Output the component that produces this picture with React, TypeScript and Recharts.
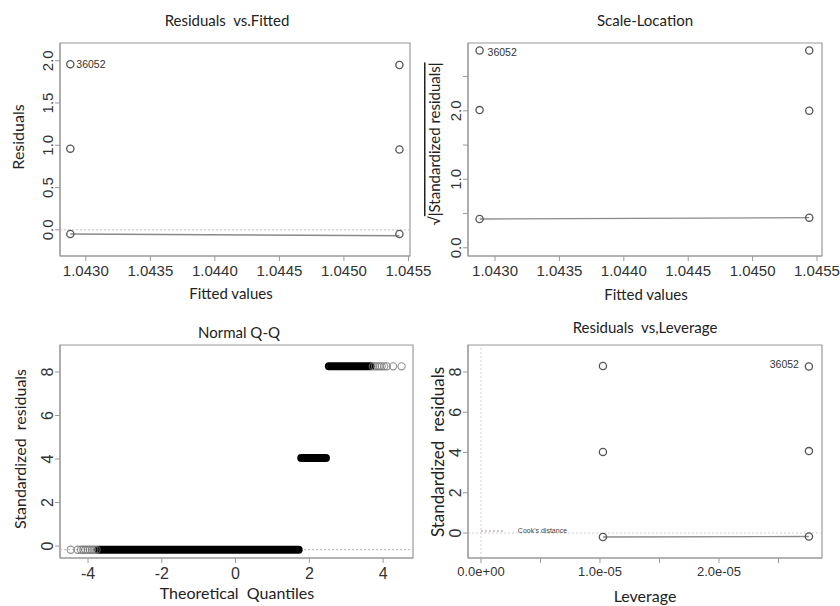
import React from "react";
import {
  ScatterChart,
  Scatter,
  XAxis,
  YAxis,
  ReferenceArea,
  ReferenceLine,
  ReferenceDot,
} from "recharts";

// ---------- data ----------
const FIT_TICKS = [1.043, 1.0435, 1.044, 1.0445, 1.045, 1.0455];
const FIT_TICK_LABELS = ["1.0430", "1.0435", "1.0440", "1.0445", "1.0450", "1.0455"];

// Residuals vs Fitted
const RF_X = [1.04288, 1.04288, 1.04288, 1.04543, 1.04543, 1.04543];
const RF_Y = [1.96, 0.96, -0.05, 1.95, 0.95, -0.05];
const RF_SMOOTH_X = [1.04288, 1.04543];
const RF_SMOOTH_Y = [-0.05, -0.07];
const RF_Y_TICKS = [0, 0.5, 1, 1.5, 2];
const RF_Y_LABELS = ["0.0", "0.5", "1.0", "1.5", "2.0"];

// Scale-Location
const SL_X = [1.04288, 1.04288, 1.04288, 1.04544, 1.04544, 1.04544];
const SL_Y = [2.88, 2.01, 0.42, 2.88, 2.0, 0.44];
const SL_SMOOTH_X = [1.04288, 1.04544];
const SL_SMOOTH_Y = [0.42, 0.44];
const SL_Y_TICKS = [0, 0.5, 1, 1.5, 2, 2.5];
const SL_Y_LABELS = ["0.0", "", "1.0", "", "2.0", ""];

// Normal Q-Q
const QQ_LOW_TAIL_X = [-4.47, -4.28, -4.19, -4.13, -4.07, -4.01, -3.95, -3.89, -3.83, -3.77];
const QQ_LOW_Y = -0.17;
const QQ_LOW_BAND_X = [-3.72, 1.71];
const QQ_MID_BAND_X = [1.78, 2.45];
const QQ_MID_Y = 4.05;
const QQ_TOP_BAND_X = [2.53, 3.66];
const QQ_TOP_TAIL_X = [3.72, 3.78, 3.84, 3.9, 3.96, 4.03, 4.1, 4.27, 4.5];
const QQ_TOP_Y = 8.26;
const QQ_LINE_X = [-4.76, 4.81];
const QQ_LINE_Y = [-0.17, -0.17];
const QQ_X_TICKS = [-4, -2, 0, 2, 4];
const QQ_Y_TICKS = [0, 2, 4, 6, 8];

// Residuals vs Leverage
const LV_X = [1.025e-5, 1.025e-5, 1.025e-5, 2.756e-5, 2.756e-5, 2.756e-5];
const LV_Y = [8.3, 4.03, -0.2, 8.27, 4.07, -0.17];
const LV_SMOOTH_X = [1.025e-5, 2.756e-5];
const LV_SMOOTH_Y = [-0.2, -0.17];
const LV_X_TICKS = [0, 0.5e-5, 1e-5, 1.5e-5, 2e-5, 2.5e-5];
const LV_X_LABELS = ["0.0e+00", "", "1.0e-05", "", "2.0e-05", ""];
const LV_Y_TICKS = [0, 2, 4, 6, 8];
const COOK_X = [0, 0.2e-5];
const COOK_Y = 0.1;

const OUTLIER_LABEL = "36052";

// ---------- helpers ----------
const zip = (xs: number[], ys: number[]) => xs.map((x, i) => ({ x, y: ys[i] }));
const atY = (xs: number[], y: number) => xs.map((x) => ({ x, y }));

const TICK_FONT = "'Liberation Sans', Arial, sans-serif";
const LABEL_FONT = "Lato, 'Open Sans', sans-serif";
const AXIS_COLOR = "#9a9a9a";
const TEXT_COLOR = "#333";
const POINT_COLOR = "#555";

const OpenCircle = (props: any) => {
  const { cx, cy } = props;
  if (cx == null || cy == null) return <g />;
  return <circle cx={cx} cy={cy} r={3.6} fill="none" stroke={POINT_COLOR} strokeWidth={1.3} />;
};
const GrayCircle = (props: any) => {
  const { cx, cy } = props;
  if (cx == null || cy == null) return <g />;
  return <circle cx={cx} cy={cy} r={3.6} fill="none" stroke="#777" strokeWidth={1.1} strokeOpacity={0.8} />;
};
const NoShape = () => <g />;

const makeRotTick = (ticks: number[], labels: string[], fontSize = 15) => (props: any) => {
  const { x, y, payload } = props;
  const idx = ticks.findIndex((t) => Math.abs(t - payload.value) < 1e-12);
  const label = idx >= 0 ? labels[idx] : String(payload.value);
  return (
    <text
      x={x}
      y={y}
      transform={`rotate(-90 ${x} ${y})`}
      textAnchor="middle"
      fontSize={fontSize}
      fontFamily={TICK_FONT}
      fill={TEXT_COLOR}
    >
      {label}
    </text>
  );
};

const makeXTick = (ticks: number[], labels: string[], fontSize = 15) => (props: any) => {
  const { x, y, payload } = props;
  const idx = ticks.findIndex((t) => Math.abs(t - payload.value) < 1e-12);
  const label = idx >= 0 ? labels[idx] : String(payload.value);
  return (
    <text x={x} y={y} dy="0.85em" textAnchor="middle" fontSize={fontSize} fontFamily={TICK_FONT} fill={TEXT_COLOR}>
      {label}
    </text>
  );
};

const PANEL_W = 420;
const PANEL_H = 303;

// ---------- panels ----------
function ResidFitted() {
  const xd: [number, number] = [1.0428, 1.045512];
  const yd: [number, number] = [-0.31, 2.21];
  return (
    <ScatterChart width={PANEL_W + 30} height={PANEL_H} margin={{ top: 43, right: 40, bottom: 17, left: 30 }}>
      <XAxis
        type="number"
        dataKey="x"
        domain={xd}
        allowDataOverflow
        ticks={FIT_TICKS}
        interval={0}
        height={30}
        tickSize={5}
        stroke={AXIS_COLOR}
        tick={makeXTick(FIT_TICKS, FIT_TICK_LABELS)}
      />
      <YAxis
        type="number"
        dataKey="y"
        domain={yd}
        allowDataOverflow
        ticks={RF_Y_TICKS}
        interval={0}
        width={30}
        tickSize={5}
        stroke={AXIS_COLOR}
        tick={makeRotTick(RF_Y_TICKS, RF_Y_LABELS)}
      />
      <ReferenceArea x1={xd[0]} x2={xd[1]} y1={yd[0]} y2={yd[1]} fill="none" stroke={AXIS_COLOR} strokeWidth={1.2} />
      <ReferenceLine y={0} stroke="#c4c4c4" strokeDasharray="2 2" />
      <Scatter
        data={zip(RF_SMOOTH_X, RF_SMOOTH_Y)}
        line={{ stroke: "#8a8a8a", strokeWidth: 1.4 }}
        shape={NoShape}
        isAnimationActive={false}
      />
      <Scatter data={zip(RF_X, RF_Y)} shape={OpenCircle} isAnimationActive={false} />
      <ReferenceDot
        x={RF_X[0]}
        y={RF_Y[0]}
        r={0}
        stroke="none"
        label={{ value: OUTLIER_LABEL, position: "right", offset: 6, fontSize: 10.5, fontFamily: TICK_FONT, fill: TEXT_COLOR }}
      />
    </ScatterChart>
  );
}

function ScaleLocation() {
  const xd: [number, number] = [1.04279, 1.045539];
  const yd: [number, number] = [-0.12, 2.99];
  return (
    <ScatterChart width={PANEL_W} height={PANEL_H} margin={{ top: 43, right: 18, bottom: 17, left: 18 }}>
      <XAxis
        type="number"
        dataKey="x"
        domain={xd}
        allowDataOverflow
        ticks={FIT_TICKS}
        interval={0}
        height={30}
        tickSize={5}
        stroke={AXIS_COLOR}
        tick={makeXTick(FIT_TICKS, FIT_TICK_LABELS)}
      />
      <YAxis
        type="number"
        dataKey="y"
        domain={yd}
        allowDataOverflow
        ticks={SL_Y_TICKS}
        interval={0}
        width={30}
        tickSize={5}
        stroke={AXIS_COLOR}
        tick={makeRotTick(SL_Y_TICKS, SL_Y_LABELS)}
      />
      <ReferenceArea x1={xd[0]} x2={xd[1]} y1={yd[0]} y2={yd[1]} fill="none" stroke={AXIS_COLOR} strokeWidth={1.2} />
      <Scatter
        data={zip(SL_SMOOTH_X, SL_SMOOTH_Y)}
        line={{ stroke: "#8a8a8a", strokeWidth: 1.4 }}
        shape={NoShape}
        isAnimationActive={false}
      />
      <Scatter data={zip(SL_X, SL_Y)} shape={OpenCircle} isAnimationActive={false} />
      <ReferenceDot
        x={SL_X[0]}
        y={SL_Y[0]}
        r={0}
        stroke="none"
        label={{ value: OUTLIER_LABEL, position: "right", offset: 8, dy: 2, fontSize: 10.5, fontFamily: TICK_FONT, fill: TEXT_COLOR }}
      />
    </ScatterChart>
  );
}

function NormalQQ() {
  const xd: [number, number] = [-4.76, 4.81];
  const yd: [number, number] = [-0.55, 9.24];
  const band = { stroke: "#000", strokeWidth: 8, strokeLinecap: "round" as const };
  return (
    <ScatterChart width={PANEL_W} height={PANEL_H} margin={{ top: 42, right: 7, bottom: 18, left: 30 }}>
      <XAxis
        type="number"
        dataKey="x"
        domain={xd}
        allowDataOverflow
        ticks={QQ_X_TICKS}
        interval={0}
        height={30}
        tickSize={5}
        stroke={AXIS_COLOR}
        tick={makeXTick(QQ_X_TICKS, QQ_X_TICKS.map(String), 16)}
      />
      <YAxis
        type="number"
        dataKey="y"
        domain={yd}
        allowDataOverflow
        ticks={QQ_Y_TICKS}
        interval={0}
        width={30}
        tickSize={5}
        stroke={AXIS_COLOR}
        tick={makeRotTick(QQ_Y_TICKS, QQ_Y_TICKS.map(String), 16)}
      />
      <ReferenceArea x1={xd[0]} x2={xd[1]} y1={yd[0]} y2={yd[1]} fill="none" stroke={AXIS_COLOR} strokeWidth={1.2} />
      <Scatter
        data={zip(QQ_LINE_X, QQ_LINE_Y)}
        line={{ stroke: "#b0b0b0", strokeWidth: 1, strokeDasharray: "2 2" }}
        shape={NoShape}
        isAnimationActive={false}
      />
      <Scatter data={atY(QQ_LOW_BAND_X, QQ_LOW_Y)} line={band} shape={NoShape} isAnimationActive={false} />
      <Scatter data={atY(QQ_MID_BAND_X, QQ_MID_Y)} line={band} shape={NoShape} isAnimationActive={false} />
      <Scatter data={atY(QQ_TOP_BAND_X, QQ_TOP_Y)} line={band} shape={NoShape} isAnimationActive={false} />
      <Scatter data={atY(QQ_LOW_TAIL_X, QQ_LOW_Y)} shape={GrayCircle} isAnimationActive={false} />
      <Scatter data={atY(QQ_TOP_TAIL_X, QQ_TOP_Y)} shape={GrayCircle} isAnimationActive={false} />
    </ScatterChart>
  );
}

function ResidLeverage() {
  const xd: [number, number] = [-0.109e-5, 2.866e-5];
  const yd: [number, number] = [-1.24, 9.34];
  return (
    <ScatterChart width={PANEL_W} height={PANEL_H} margin={{ top: 42, right: 18, bottom: 18, left: 18 }}>
      <XAxis
        type="number"
        dataKey="x"
        domain={xd}
        allowDataOverflow
        ticks={LV_X_TICKS}
        interval={0}
        height={30}
        tickSize={5}
        stroke={AXIS_COLOR}
        tick={makeXTick(LV_X_TICKS, LV_X_LABELS, 13)}
      />
      <YAxis
        type="number"
        dataKey="y"
        domain={yd}
        allowDataOverflow
        ticks={LV_Y_TICKS}
        interval={0}
        width={30}
        tickSize={5}
        stroke={AXIS_COLOR}
        tick={makeRotTick(LV_Y_TICKS, LV_Y_TICKS.map(String), 16)}
      />
      <ReferenceArea x1={xd[0]} x2={xd[1]} y1={yd[0]} y2={yd[1]} fill="none" stroke={AXIS_COLOR} strokeWidth={1.2} />
      <ReferenceLine y={0} stroke="#d0d0d0" strokeDasharray="2 2" />
      <ReferenceLine x={0} stroke="#d0d0d0" strokeDasharray="2 2" />
      <Scatter
        data={atY(COOK_X, COOK_Y)}
        line={{ stroke: "#a09090", strokeWidth: 1, strokeDasharray: "2 2" }}
        shape={NoShape}
        isAnimationActive={false}
      />
      <ReferenceDot
        x={0.31e-5}
        y={COOK_Y}
        r={0}
        stroke="none"
        label={{ value: "Cook's distance", position: "right", offset: 0, dy: -1, fontSize: 7, fontFamily: TICK_FONT, fill: "#444" }}
      />
      <Scatter
        data={zip(LV_SMOOTH_X, LV_SMOOTH_Y)}
        line={{ stroke: "#8a8a8a", strokeWidth: 1.4 }}
        shape={NoShape}
        isAnimationActive={false}
      />
      <Scatter data={zip(LV_X, LV_Y)} shape={OpenCircle} isAnimationActive={false} />
      <ReferenceDot
        x={LV_X[3]}
        y={LV_Y[3]}
        r={0}
        stroke="none"
        label={{ value: OUTLIER_LABEL, position: "left", offset: 10, dy: -2, fontSize: 10.5, fontFamily: TICK_FONT, fill: TEXT_COLOR }}
      />
    </ScatterChart>
  );
}

// ---------- overlay text ----------
function Overlay() {
  const common = { fontFamily: LABEL_FONT, fill: "#222", textAnchor: "middle" as const, dominantBaseline: "central" as const };
  const rot = (x: number, y: number) => `rotate(-90 ${x} ${y})`;
  return (
    <svg
      width={840}
      height={606}
      style={{ position: "absolute", left: 0, top: 0, pointerEvents: "none" }}
    >
      <text x={227} y={20} fontSize={15} {...common} style={{ whiteSpace: "pre" }}>Residuals  vs.Fitted</text>
      <text x={645} y={20} fontSize={15} {...common}>Scale-Location</text>
      <text x={239} y={332} fontSize={15} {...common}>Normal Q-Q</text>
      <text x={645} y={327} fontSize={15} {...common} style={{ whiteSpace: "pre" }}>Residuals  vs,Leverage</text>

      <text x={231} y={293} fontSize={15} {...common}>Fitted values</text>
      <text x={646} y={294} fontSize={15} {...common}>Fitted values</text>
      <text x={237} y={592} fontSize={16} {...common} style={{ whiteSpace: "pre" }}>Theoretical  Quantiles</text>
      <text x={645} y={595} fontSize={16} {...common}>Leverage</text>

      <text x={17} y={137} fontSize={16} {...common} transform={rot(17, 137)}>Residuals</text>
      <text x={434} y={144} fontSize={15} {...common} transform={rot(434, 144)}>
        √
        <tspan textDecoration="overline" style={{ textDecoration: "overline" }}>|Standardized residuals|</tspan>
      </text>
      <text x={19} y={449} fontSize={16} {...common} transform={rot(19, 449)} style={{ whiteSpace: "pre" }}>Standardized  residuals</text>
      <text x={437} y={452} fontSize={17} {...common} transform={rot(437, 452)} style={{ whiteSpace: "pre" }}>Standardized  residuals</text>
    </svg>
  );
}

export default function App() {
  return (
    <div style={{ position: "absolute", left: 0, top: 0, width: 840, height: 606, background: "#fff" }}>
      <div style={{ position: "absolute", left: 420, top: 0 }}>
        <ScaleLocation />
      </div>
      <div style={{ position: "absolute", left: 0, top: 0 }}>
        <ResidFitted />
      </div>
      <div style={{ position: "absolute", left: 0, top: 303 }}>
        <NormalQQ />
      </div>
      <div style={{ position: "absolute", left: 420, top: 303 }}>
        <ResidLeverage />
      </div>
      <Overlay />
    </div>
  );
}
